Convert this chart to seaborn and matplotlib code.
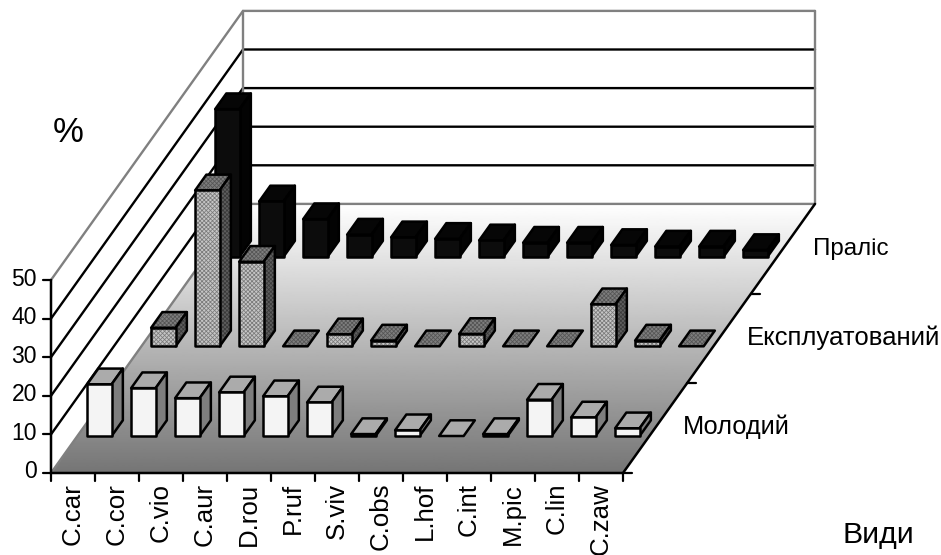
import numpy as np
import seaborn as sns
import matplotlib
matplotlib.use("Agg")
import matplotlib.pyplot as plt
from matplotlib.patches import Polygon

species = ["C.car", "C.cor", "C.vio", "C.aur", "D.rou", "P.ruf", "S.viv",
           "C.obs", "L.hof", "C.int", "M.pic", "C.lin", "C.zaw"]
stands = ["Молодий", "Експлуатований", "Праліс"]
young = [13.4, 12.4, 9.8, 11.3, 10.3, 8.7, 0.5, 1.5, 0.0, 0.5, 9.4, 4.8, 2.0]
exploited = [4.8, 40.4, 21.9, 0.0, 3.1, 1.5, 0.0, 3.2, 0.0, 0.0, 10.9, 1.5, 0.0]
primeval = [38.2, 14.3, 9.7, 5.7, 5.0, 4.6, 4.2, 3.6, 3.6, 3.0, 2.6, 2.6, 1.7]
value_ticks = [0, 10, 20, 30, 40, 50]

sns.set_theme(style="white")
plt.rcParams["font.family"] = ["Liberation Sans", "DejaVu Sans"]

fig = plt.figure(figsize=(9.41, 5.55), dpi=100, facecolor="white")
ax = fig.add_axes([0, 0, 1, 1])
W, H = 941, 555

# oblique projection of the chart box onto the page
X0, Y0 = 51.0, 473.0
SLOT = 44.0
DX, DY = 64.0, -89.7
UNIT = 3.86
BAR_W = 24.5 / 44.0
BAR_D = 0.175


def pr(c, d, v=0.0):
    return (X0 + SLOT * c + DX * d, Y0 + DY * d - UNIT * v)


n = len(species)
m = len(stands)
vmax = value_ticks[-1]

# floor gradient
floor = Polygon([pr(0, 0), pr(n, 0), pr(n, m), pr(0, m)], closed=True,
                facecolor="none", edgecolor="none")
ax.add_patch(floor)
grad = np.linspace(1.0, 0.46, 256)[:, None]
im = ax.imshow(grad, extent=[pr(0, 0)[0], pr(n, m)[0], pr(0, 0)[1], pr(0, m)[1]],
               cmap="gray", vmin=0, vmax=1, aspect="auto", zorder=1)
im.set_clip_path(floor)

# walls and gridlines
for v in value_ticks[1:]:
    col = "#808080" if v == vmax else "black"
    ax.plot(*zip(pr(0, 0, v), pr(0, m, v), pr(n, m, v)), color=col, lw=1.7, zorder=2,
            solid_joinstyle="miter")
ax.plot(*zip(pr(0, 0), pr(0, m), pr(n, m)), color="#808080", lw=1.7, zorder=2)
ax.plot(*zip(pr(0, m), pr(0, m, vmax)), color="#808080", lw=1.7, zorder=2)
ax.plot(*zip(pr(n, m), pr(n, m, vmax)), color="#808080", lw=1.7, zorder=2)

# axes lines and ticks
ax.plot(*zip(pr(0, 0, vmax), pr(0, 0), pr(n, 0), pr(n, m)), color="black", lw=1.8, zorder=3,
        solid_joinstyle="miter")
for v in value_ticks:
    x, y = pr(0, 0, v)
    ax.plot([x - 8, x], [y, y], color="black", lw=1.6, zorder=3)
    ax.text(x - 14, y - 1, str(v), ha="right", va="center", fontsize=16.5, color="black")
for i in range(n + 1):
    x, y = pr(i, 0)
    ax.plot([x, x], [y, y + 8], color="black", lw=1.6, zorder=3)
for i, lab in enumerate(species):
    x, y = pr(i + 0.5, 0)
    ax.text(x, y + 10, lab, rotation=90, ha="center", va="top", fontsize=18.6, color="black")
for d in range(m):
    x, y = pr(n, d)
    ax.plot([x, x + 9], [y, y], color="black", lw=1.6, zorder=3)
row_label_pos = [(683, 427), (747, 338), (813, 249)]
row_label_size = [18.3, 18.5, 17.4]
for lab, (x, y), fs in zip(stands, row_label_pos, row_label_size):
    ax.text(x, y, lab, ha="left", va="center", fontsize=fs, color="black")
ax.text(53, 133, "%", ha="left", va="center", fontsize=25, color="black")
ax.text(843, 535, "Види", ha="left", va="center", fontsize=21.8, color="black")

styles = {
    0: dict(front="#f4f4f4", top="#ababab", side="#7e7e7e", hatch=None),
    1: dict(front="#c6c6c6", top="#7e7e7e", side="#5e5e5e", hatch="xxxxxxxx"),
    2: dict(front="#0c0c0c", top="#060606", side="#030303", hatch=None),
}


def face(pts, fc, hatch=None, hatch_col=None, z=5):
    if hatch:
        ax.add_patch(Polygon(pts, closed=True, facecolor=fc, edgecolor=hatch_col,
                             hatch=hatch, lw=0, zorder=z))
        ax.add_patch(Polygon(pts, closed=True, facecolor="none", edgecolor="black",
                             lw=1.8, joinstyle="round", zorder=z))
    else:
        ax.add_patch(Polygon(pts, closed=True, facecolor=fc, edgecolor="black",
                             lw=1.8, joinstyle="round", zorder=z))


plt.rcParams["hatch.linewidth"] = 0.55
rows = [young, exploited, primeval]
for d in reversed(range(m)):
    st = styles[d]
    for i in range(n):
        v = rows[d][i]
        c0 = i + (1 - BAR_W) / 2
        c1 = c0 + BAR_W
        d0 = d + 0.5 - BAR_D / 2
        d1 = d0 + BAR_D
        z = 10 * (m - d)
        hc_top = "#555555" if st["hatch"] else None
        hc_front = "#7a7a7a" if st["hatch"] else None
        face([pr(c0, d0, v), pr(c1, d0, v), pr(c1, d1, v), pr(c0, d1, v)],
             st["top"], st["hatch"], hc_top, z)
        if v > 0:
            face([pr(c1, d0, 0), pr(c1, d1, 0), pr(c1, d1, v), pr(c1, d0, v)],
                 st["side"], st["hatch"], "#3a3a3a", z)
            face([pr(c0, d0, 0), pr(c1, d0, 0), pr(c1, d0, v), pr(c0, d0, v)],
                 st["front"], st["hatch"], hc_front, z)

ax.set_xlim(0, W)
ax.set_ylim(H, 0)
ax.axis("off")
fig.savefig("out.png", dpi=100, facecolor="white")
